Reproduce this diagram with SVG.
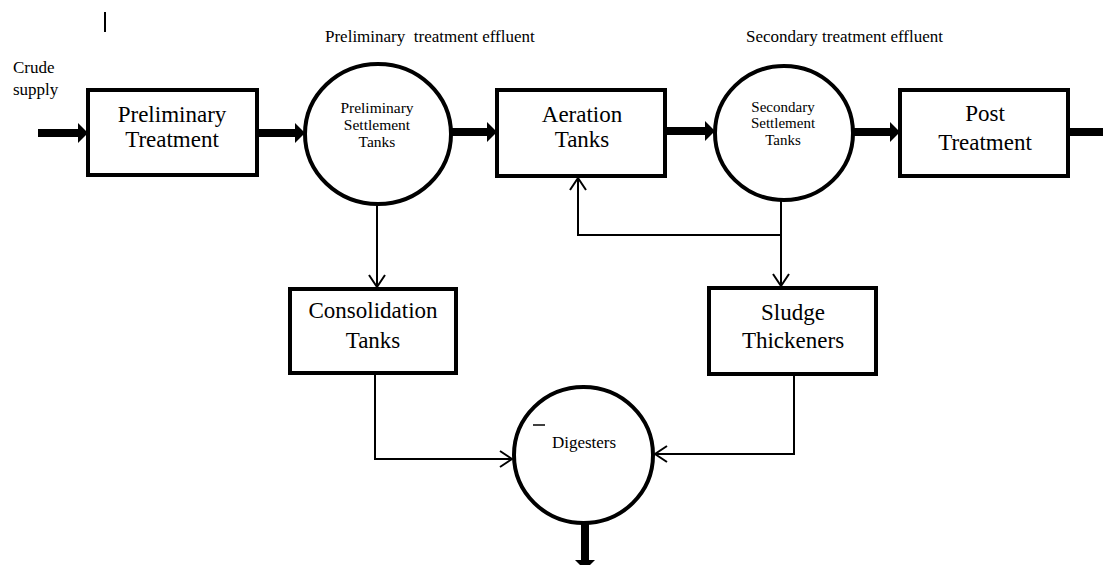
<svg xmlns="http://www.w3.org/2000/svg" width="1103" height="565" viewBox="0 0 1103 565">
<style>
.box{fill:#fff;stroke:#000;stroke-width:4}
text{font-family:'Liberation Serif','Times New Roman',Times,'DejaVu Serif',serif;fill:#000}
.big{font-size:23px;text-anchor:middle}
.small{font-size:15px;text-anchor:middle}
.lab{font-size:17px}
.thick{stroke:#000;stroke-width:8;fill:none}
.thin{stroke:#000;stroke-width:2;fill:none}
</style>
<defs>
<marker id="ah" markerUnits="userSpaceOnUse" markerWidth="10" markerHeight="20" viewBox="0 0 10 20" refX="0" refY="10" orient="auto">
<path d="M0,0 L10,10 L0,20 z" fill="#000"/>
</marker>
<marker id="oa" markerUnits="userSpaceOnUse" markerWidth="16" markerHeight="20" viewBox="-14 -10 16 20" refX="0" refY="0" orient="auto">
<path d="M-12,-8 L0,0 L-12,8" fill="none" stroke="#000" stroke-width="2"/>
</marker>
</defs>
<rect width="1103" height="565" fill="#fff"/>
<line x1="105" y1="12" x2="105" y2="32" stroke="#000" stroke-width="2"/>
<text class="lab" x="13" y="73">Crude</text>
<text class="lab" x="13" y="95">supply</text>
<text class="lab" x="325" y="42" xml:space="preserve">Preliminary  treatment effluent</text>
<text class="lab" x="746" y="42">Secondary treatment effluent</text>
<g id="connectors">
<line class="thick" x1="38" y1="133" x2="78" y2="133" marker-end="url(#ah)"/>
<line class="thick" x1="257" y1="133" x2="295" y2="133" marker-end="url(#ah)"/>
<line class="thick" x1="451" y1="132" x2="487" y2="132" marker-end="url(#ah)"/>
<line class="thick" x1="665" y1="131" x2="705" y2="131" marker-end="url(#ah)"/>
<line class="thick" x1="853" y1="132" x2="890" y2="132" marker-end="url(#ah)"/>
<line class="thick" x1="1068" y1="132" x2="1103" y2="132"/>
<line class="thick" x1="585" y1="522" x2="585" y2="560" marker-end="url(#ah)"/>
<line class="thin" x1="377" y1="203" x2="377" y2="287" marker-end="url(#oa)"/>
<polyline class="thin" points="781,200 781,235 578,235 578,178" marker-end="url(#oa)"/>
<line class="thin" x1="781" y1="234" x2="781" y2="286" marker-end="url(#oa)"/>
<polyline class="thin" points="375,373 375,459 512,459" marker-end="url(#oa)"/>
<polyline class="thin" points="794,374 794,454 655,454" marker-end="url(#oa)"/>
</g>
<g id="preliminary-treatment">
<rect class="box" x="88" y="90" width="169" height="85"/>
<text class="big" x="172" y="122">Preliminary</text>
<text class="big" x="172" y="147">Treatment</text>
</g>
<g id="preliminary-settlement-tanks">
<ellipse class="box" cx="378" cy="134" rx="73" ry="70"/>
<text class="small" x="377" y="113" style="font-size:15.5px">Preliminary</text>
<text class="small" x="377" y="130" style="font-size:15.5px">Settlement</text>
<text class="small" x="377" y="147" style="font-size:15.5px">Tanks</text>
</g>
<g id="aeration-tanks">
<rect class="box" x="497" y="90" width="168" height="86"/>
<text class="big" x="582" y="122">Aeration</text>
<text class="big" x="582" y="147">Tanks</text>
</g>
<g id="secondary-settlement-tanks">
<ellipse class="box" cx="784" cy="133" rx="69" ry="67"/>
<text class="small" x="783" y="112">Secondary</text>
<text class="small" x="783" y="128">Settlement</text>
<text class="small" x="783" y="145">Tanks</text>
</g>
<g id="post-treatment">
<rect class="box" x="900" y="90" width="168" height="86"/>
<text class="big" x="985" y="121">Post</text>
<text class="big" x="985" y="150">Treatment</text>
</g>
<g id="consolidation-tanks">
<rect class="box" x="290" y="289" width="166" height="84"/>
<text class="big" x="373" y="318">Consolidation</text>
<text class="big" x="373" y="348">Tanks</text>
</g>
<g id="sludge-thickeners">
<rect class="box" x="709" y="288" width="167" height="86"/>
<text class="big" x="793" y="320">Sludge</text>
<text class="big" x="793" y="348">Thickeners</text>
</g>
<g id="digesters">
<ellipse class="box" cx="583.5" cy="455" rx="69.5" ry="68"/>
<line x1="533" y1="425" x2="545" y2="425" stroke="#000" stroke-width="1.5"/>
<text class="small" x="584" y="448" style="font-size:17px">Digesters</text>
</g>
</svg>
